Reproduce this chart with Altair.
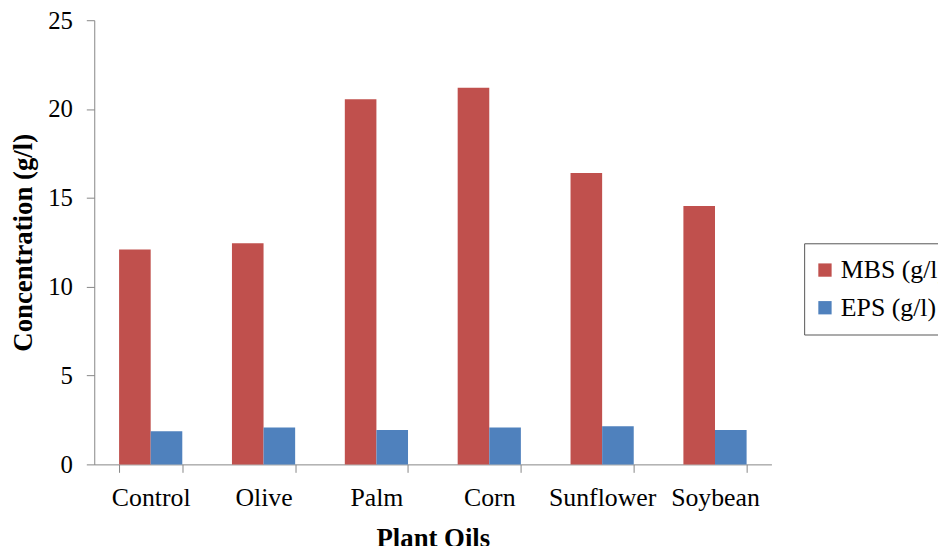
import altair as alt
import pandas as pd

plants = ["Control", "Olive", "Palm", "Corn", "Sunflower", "Soybean"]
mbs = [12.1, 12.45, 20.55, 21.2, 16.4, 14.55]
eps = [1.86, 2.08, 1.93, 2.08, 2.15, 1.93]
series = ["MBS (g/l)", "EPS (g/l)"]
colors = ["#C0504D", "#4F81BD"]
y_ticks = [0, 5, 10, 15, 20, 25]

rows = []
for p, m, e in zip(plants, mbs, eps):
    rows.append({"plant": p, "series": series[0], "value": m})
    rows.append({"plant": p, "series": series[1], "value": e})
df = pd.DataFrame(rows)

FONT = "Times New Roman, Liberation Serif, DejaVu Serif, serif"
GRAY = "#868686"

chart = alt.Chart(df).mark_bar().encode(
    x=alt.X(
        "plant:N", sort=plants, title="Plant Oils",
        scale=alt.Scale(paddingInner=0.44, paddingOuter=0.22),
        axis=alt.Axis(labelAngle=0, tickBand="extent", tickSize=8, labelPadding=12,
                      titlePadding=16, labelOverlap=False, labelFontSize=26,
                      titleFontSize=27, labelFont=FONT, titleFont=FONT,
                      titleFontWeight="bold", labelColor="black", titleColor="black",
                      domainColor=GRAY, tickColor=GRAY, grid=False),
    ),
    xOffset=alt.XOffset("series:N", sort=series),
    y=alt.Y(
        "value:Q", title="Concentration (g/l)",
        scale=alt.Scale(domain=[0, 25], nice=False),
        axis=alt.Axis(values=y_ticks, tickSize=8, labelPadding=14, titlePadding=10,
                      labelFontSize=25, titleFontSize=27, labelFont=FONT, titleFont=FONT,
                      titleFontWeight="bold", labelColor="black", titleColor="black",
                      domainColor=GRAY, tickColor=GRAY, grid=False),
    ),
    color=alt.Color(
        "series:N", sort=series,
        scale=alt.Scale(domain=series, range=colors),
        legend=alt.Legend(title=None, orient="none", legendX=716, legendY=225,
                          strokeColor="#555555", padding=14, symbolType="square",
                          symbolSize=180, symbolStrokeWidth=0, symbolOffset=-6,
                          labelFontSize=26, labelFont=FONT, labelColor="black",
                          rowPadding=12, labelOffset=3),
    ),
).properties(
    width=683, height=448,
    autosize=alt.AutoSizeParams(type="none"),
    padding={"left": 87, "top": 10, "right": 168, "bottom": 80},
).configure_view(stroke=None)

chart.save("out.html", embed_options={"renderer": "svg", "actions": False})
